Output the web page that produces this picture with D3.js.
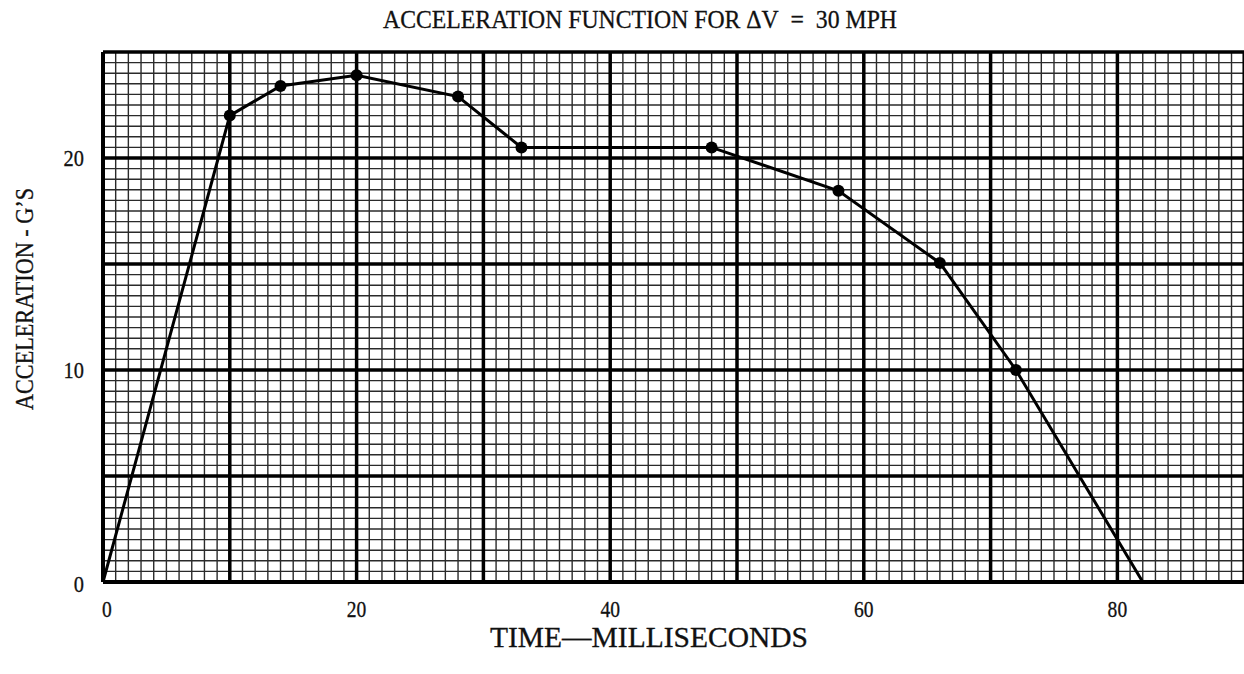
<!DOCTYPE html>
<html>
<head>
<meta charset="utf-8">
<script src="https://cdn.jsdelivr.net/npm/d3@7"></script>
<style>
  body { margin: 0; background: #fff; }
  text { font-family: "Liberation Serif", "DejaVu Serif", serif; fill: #111; stroke: #111; stroke-width: 0.3; }
</style>
</head>
<body>
<svg id="chart"></svg>
<script>
// values
const timeMs = [0, 10, 14, 20, 28, 33, 48, 58, 66, 72, 82];
const accelG = [0, 22, 23.4, 23.9, 22.9, 20.5, 20.5, 18.45, 15.05, 10, 0];
const marked = [false, true, true, true, true, true, true, true, true, true, false];
const xTicks = [0, 20, 40, 60, 80];
const yTicks = [0, 10, 20];

const width = 1244, height = 674;
const plotLeft = 103, plotTop = 52, plotBottom = 582;

const svg = d3.select('#chart').attr('width', width).attr('height', height);

const x = d3.scaleLinear().domain([0, 90]).range([plotLeft, plotLeft + 90 * 12.68]);
const y = d3.scaleLinear().domain([0, 25]).range([plotBottom, plotTop]);

const grid = svg.append('g');
// minor grid: 1 ms / 0.5 G
grid.selectAll('.vminor').data(d3.range(0, 91, 1)).enter().append('line')
  .attr('x1', d => x(d)).attr('x2', d => x(d))
  .attr('y1', plotTop).attr('y2', plotBottom)
  .attr('stroke', '#2a2a2a').attr('stroke-width', 1.4);
grid.selectAll('.hminor').data(d3.range(0, 25.01, 0.5)).enter().append('line')
  .attr('x1', plotLeft).attr('x2', width)
  .attr('y1', d => y(d)).attr('y2', d => y(d))
  .attr('stroke', '#2a2a2a').attr('stroke-width', 1.4);
// major grid
grid.selectAll('.vmajor').data(d3.range(10, 91, 10)).enter().append('line')
  .attr('x1', d => x(d)).attr('x2', d => x(d))
  .attr('y1', plotTop).attr('y2', plotBottom)
  .attr('stroke', '#000').attr('stroke-width', 3.5);
grid.selectAll('.hmajor').data(d3.range(5, 25, 5)).enter().append('line')
  .attr('x1', plotLeft).attr('x2', width)
  .attr('y1', d => y(d)).attr('y2', d => y(d))
  .attr('stroke', '#000').attr('stroke-width', 3.5);

// frame
svg.append('line').attr('x1', plotLeft).attr('x2', width).attr('y1', plotTop).attr('y2', plotTop)
  .attr('stroke', '#000').attr('stroke-width', 3.5);
svg.append('line').attr('x1', plotLeft).attr('x2', width).attr('y1', plotBottom).attr('y2', plotBottom)
  .attr('stroke', '#000').attr('stroke-width', 4);
svg.append('line').attr('x1', plotLeft).attr('x2', plotLeft).attr('y1', plotTop).attr('y2', plotBottom)
  .attr('stroke', '#000').attr('stroke-width', 4);

// data line
const pts = timeMs.map((t, i) => ({ t: t, g: accelG[i], m: marked[i] }));
svg.append('path')
  .datum(pts)
  .attr('fill', 'none')
  .attr('stroke', '#000')
  .attr('stroke-width', 3)
  .attr('d', d3.line().x(d => x(d.t)).y(d => y(d.g)));

svg.selectAll('circle').data(pts.filter(d => d.m)).enter().append('circle')
  .attr('cx', d => x(d.t)).attr('cy', d => y(d.g)).attr('r', 6)
  .attr('fill', '#000');

// tick labels
const xl = d => x(d) + (d === 0 ? 4 : 0);
svg.selectAll('.xt').data(xTicks).enter().append('text')
  .attr('x', xl).attr('y', 617)
  .attr('text-anchor', 'middle').attr('font-size', 23)
  .attr('transform', d => `translate(${xl(d)},0) scale(0.85,1) translate(${-xl(d)},0)`)
  .text(d => d);
svg.selectAll('.yt').data(yTicks).enter().append('text')
  .attr('x', 84).attr('y', d => y(d) + 8 + (d === 0 ? 2 : 0))
  .attr('text-anchor', 'end').attr('font-size', 24)
  .attr('transform', `translate(84,0) scale(0.85,1) translate(-84,0)`)
  .text(d => d);

// titles
svg.append('text').attr('x', 383).attr('y', 28)
  .attr('font-size', 25)
  .attr('textLength', 514).attr('lengthAdjust', 'spacingAndGlyphs')
  .text('ACCELERATION FUNCTION FOR \u0394V\u00a0\u00a0=\u00a0\u00a030 MPH');
svg.append('text').attr('x', 490).attr('y', 647)
  .attr('font-size', 30)
  .attr('textLength', 318).attr('lengthAdjust', 'spacingAndGlyphs')
  .text('TIME\u2014MILLISECONDS');
svg.append('text')
  .attr('transform', 'translate(33,410) rotate(-90)')
  .attr('font-size', 25)
  .attr('textLength', 222).attr('lengthAdjust', 'spacingAndGlyphs')
  .text('ACCELERATION - G\u2019S');
</script>
</body>
</html>
